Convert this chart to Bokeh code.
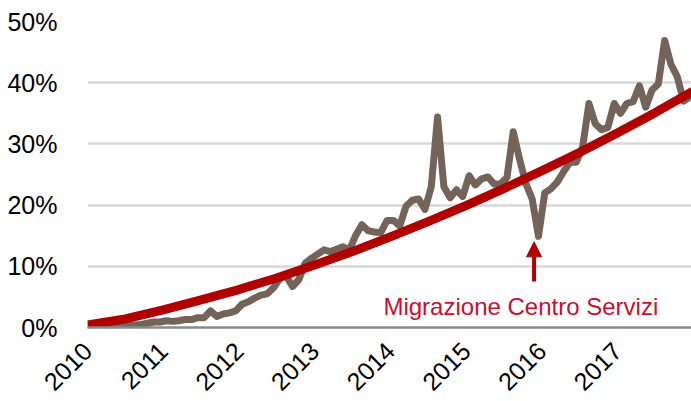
import math
from bokeh.plotting import figure
from bokeh.models import (Range1d, FixedTicker, PrintfTickFormatter, Label, Arrow,
                          NormalHead, ColumnDataSource)
from bokeh.embed import file_html
from bokeh.resources import INLINE

# ---- data -------------------------------------------------------------
years = [2010, 2011, 2012, 2013, 2014, 2015, 2016, 2017]
year_labels = ["2010", "2011", "2012", "2013", "2014", "2015", "2016", "2017"]

# monthly share (%), Jan 2010 .. Dec 2017
share_2010 = [0.0, 0.1, 0.1, 0.2, 0.3, 0.3, 0.4, 0.4, 0.5, 0.7, 0.9, 0.9]
share_2011 = [1.1, 1.0, 1.1, 1.3, 1.3, 1.6, 1.6, 2.7, 1.8, 2.2, 2.4, 2.7]
share_2012 = [3.8, 4.2, 4.8, 5.3, 5.5, 6.5, 8.0, 8.4, 6.7, 7.8, 10.5, 11.3]
share_2013 = [12.0, 12.7, 12.4, 12.8, 13.2, 12.6, 15.0, 16.8, 15.8, 15.6, 15.5, 17.5]
share_2014 = [17.5, 16.6, 19.8, 20.8, 21.0, 19.3, 23.0, 34.4, 23.0, 21.2, 22.5, 21.4]
share_2015 = [24.8, 23.3, 24.3, 24.6, 23.4, 23.5, 24.5, 32.0, 27.5, 23.5, 21.0, 14.9]
share_2016 = [22.0, 22.7, 23.8, 25.5, 27.0, 27.0, 29.5, 36.6, 33.3, 32.3, 32.7, 36.6]
share_2017 = [35.0, 36.6, 36.9, 39.5, 36.0, 38.8, 39.8, 46.9, 43.0, 41.0, 37.0, 37.7]

# trend line (%), read every half year from 2010.0 to 2018.0
trend_t = [2010.0, 2010.5, 2011.0, 2011.5, 2012.0, 2012.5, 2013.0, 2013.5, 2014.0,
           2014.5, 2015.0, 2015.5, 2016.0, 2016.5, 2017.0, 2017.5, 2018.0]
trend_v = [0.4, 1.4, 2.9, 4.5, 6.2, 8.1, 10.2, 12.4, 14.8, 17.3, 19.9, 22.7, 25.6,
           28.6, 31.8, 35.1, 38.6]

annotation_text = "Migrazione Centro Servizi"

# ---- build ------------------------------------------------------------
share = (share_2010 + share_2011 + share_2012 + share_2013 +
         share_2014 + share_2015 + share_2016 + share_2017)
month_x = [years[0] + (i + 0.5) / 12.0 for i in range(len(share))]

FONT = "Liberation Sans"
BROWN = "#736359"
TREND = "#B00000"
NOTE = "#C8102E"

p = figure(width=691, height=401, output_backend="svg", toolbar_location=None,
           x_range=Range1d(2010, 2017.98), y_range=Range1d(0, 50),
           min_border_left=87, min_border_right=0, min_border_top=21,
           min_border_bottom=73)
p.outline_line_color = None
p.background_fill_color = "white"
p.border_fill_color = "white"

src = ColumnDataSource(dict(x=month_x, y=share))
p.line("x", "y", source=src, line_color=BROWN, line_width=7,
       line_join="round", line_cap="round")
p.line(trend_t, trend_v, line_color=TREND, line_width=9, line_join="round")

# axes
xa = p.xaxis[0]
xa.ticker = FixedTicker(ticks=years)
xa.major_label_overrides = {y: l for y, l in zip(years, year_labels)}
xa.major_label_orientation = math.pi / 4
xa.major_label_text_font = FONT
xa.major_label_text_font_size = "25px"
xa.major_label_text_color = "black"
xa.major_label_standoff = 13
xa.major_tick_line_color = None
xa.minor_tick_line_color = None
xa.axis_line_color = "#898989"
xa.axis_line_width = 2.5

ya = p.yaxis[0]
ya.ticker = FixedTicker(ticks=[0, 10, 20, 30, 40, 50])
ya.formatter = PrintfTickFormatter(format="%d%%")
ya.major_label_text_font = FONT
ya.major_label_text_font_size = "25px"
ya.major_label_text_color = "black"
ya.major_label_standoff = 24
ya.major_tick_line_color = None
ya.minor_tick_line_color = None
ya.axis_line_color = None

p.xgrid.grid_line_color = None
p.ygrid.grid_line_color = "#D9D9D9"
p.ygrid.grid_line_width = 2.5

# annotation
p.add_layout(Label(x=2013.91, y=3.4, text=annotation_text, text_color=NOTE,
                   text_font=FONT, text_font_size="24px",
                   text_baseline="alphabetic", text_align="left"))
p.add_layout(Arrow(end=NormalHead(size=15, fill_color=TREND, line_color=TREND),
                   x_start=2015.9, y_start=7.5, x_end=2015.9, y_end=14.0,
                   line_color=TREND, line_width=4))

open("out.html", "w").write(file_html(p, INLINE))
